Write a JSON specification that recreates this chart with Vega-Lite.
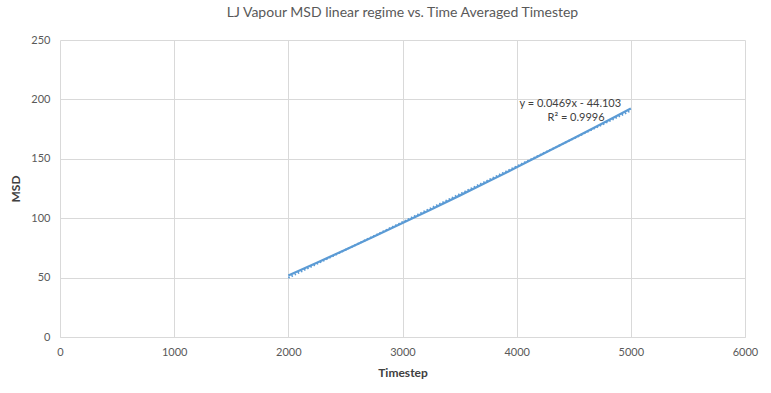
{
  "$schema": "https://vega.github.io/schema/vega-lite/v6.json",
  "width": 685,
  "height": 297,
  "autosize": {"type": "none"},
  "padding": {"left": 60, "top": 40, "right": 26, "bottom": 56},
  "background": "white",
  "config": {
    "view": {"stroke": null},
    "font": "Lato",
    "axis": {
      "gridColor": "#d9d9d9",
      "gridWidth": 1,
      "ticks": false,
      "labelColor": "#595959",
      "labelFontSize": 11,
      "labelFont": "Lato",
      "titleColor": "#404040",
      "titleFont": "Lato",
      "titleFontSize": 12,
      "titleFontWeight": "bold"
    }
  },
  "title": {
    "text": "LJ Vapour MSD linear regime vs. Time Averaged Timestep",
    "font": "Lato",
    "fontSize": 14,
    "fontWeight": "normal",
    "color": "#595959",
    "anchor": "middle",
    "offset": 14
  },
  "datasets": {
    "msd": [
      {"Timestep": 2000, "MSD": 51.7},
      {"Timestep": 2250, "MSD": 62.5},
      {"Timestep": 2500, "MSD": 73.5},
      {"Timestep": 2750, "MSD": 84.6},
      {"Timestep": 3000, "MSD": 95.9},
      {"Timestep": 3250, "MSD": 107.4},
      {"Timestep": 3500, "MSD": 119.0},
      {"Timestep": 3750, "MSD": 130.9},
      {"Timestep": 4000, "MSD": 142.8},
      {"Timestep": 4250, "MSD": 155.0},
      {"Timestep": 4500, "MSD": 167.3},
      {"Timestep": 4750, "MSD": 179.8},
      {"Timestep": 5000, "MSD": 192.4}
    ],
    "label": [
      {"Timestep": 4470, "MSD": 196.5, "text": "y = 0.0469x - 44.103"},
      {"Timestep": 4520, "MSD": 184, "text": "R² = 0.9996"}
    ]
  },
  "layer": [
    {
      "data": {"name": "msd"},
      "mark": {"type": "line", "color": "#5b9bd5", "strokeWidth": 2.25},
      "encoding": {
        "x": {
          "field": "Timestep",
          "type": "quantitative",
          "scale": {"domain": [0, 6000], "nice": false},
          "axis": {"values": [0, 1000, 2000, 3000, 4000, 5000, 6000], "format": "d", "labelFlush": false, "title": "Timestep", "labelPadding": 9, "titlePadding": 10, "domainColor": "#d9d9d9"}
        },
        "y": {
          "field": "MSD",
          "type": "quantitative",
          "scale": {"domain": [0, 250], "nice": false},
          "axis": {"values": [0, 50, 100, 150, 200, 250], "title": "MSD", "labelPadding": 10, "titlePadding": 8, "domain": false}
        }
      }
    },
    {
      "data": {"name": "msd"},
      "transform": [{"regression": "MSD", "on": "Timestep", "method": "linear"}],
      "mark": {"type": "line", "color": "#5b9bd5", "strokeWidth": 2, "strokeDash": [1.5, 2]},
      "encoding": {
        "x": {"field": "Timestep", "type": "quantitative"},
        "y": {"field": "MSD", "type": "quantitative"}
      }
    },
    {
      "data": {"name": "label"},
      "mark": {"type": "text", "font": "Lato", "fontSize": 11, "color": "#404040", "align": "center", "baseline": "middle"},
      "encoding": {
        "x": {"field": "Timestep", "type": "quantitative"},
        "y": {"field": "MSD", "type": "quantitative"},
        "text": {"field": "text"}
      }
    }
  ]
}
